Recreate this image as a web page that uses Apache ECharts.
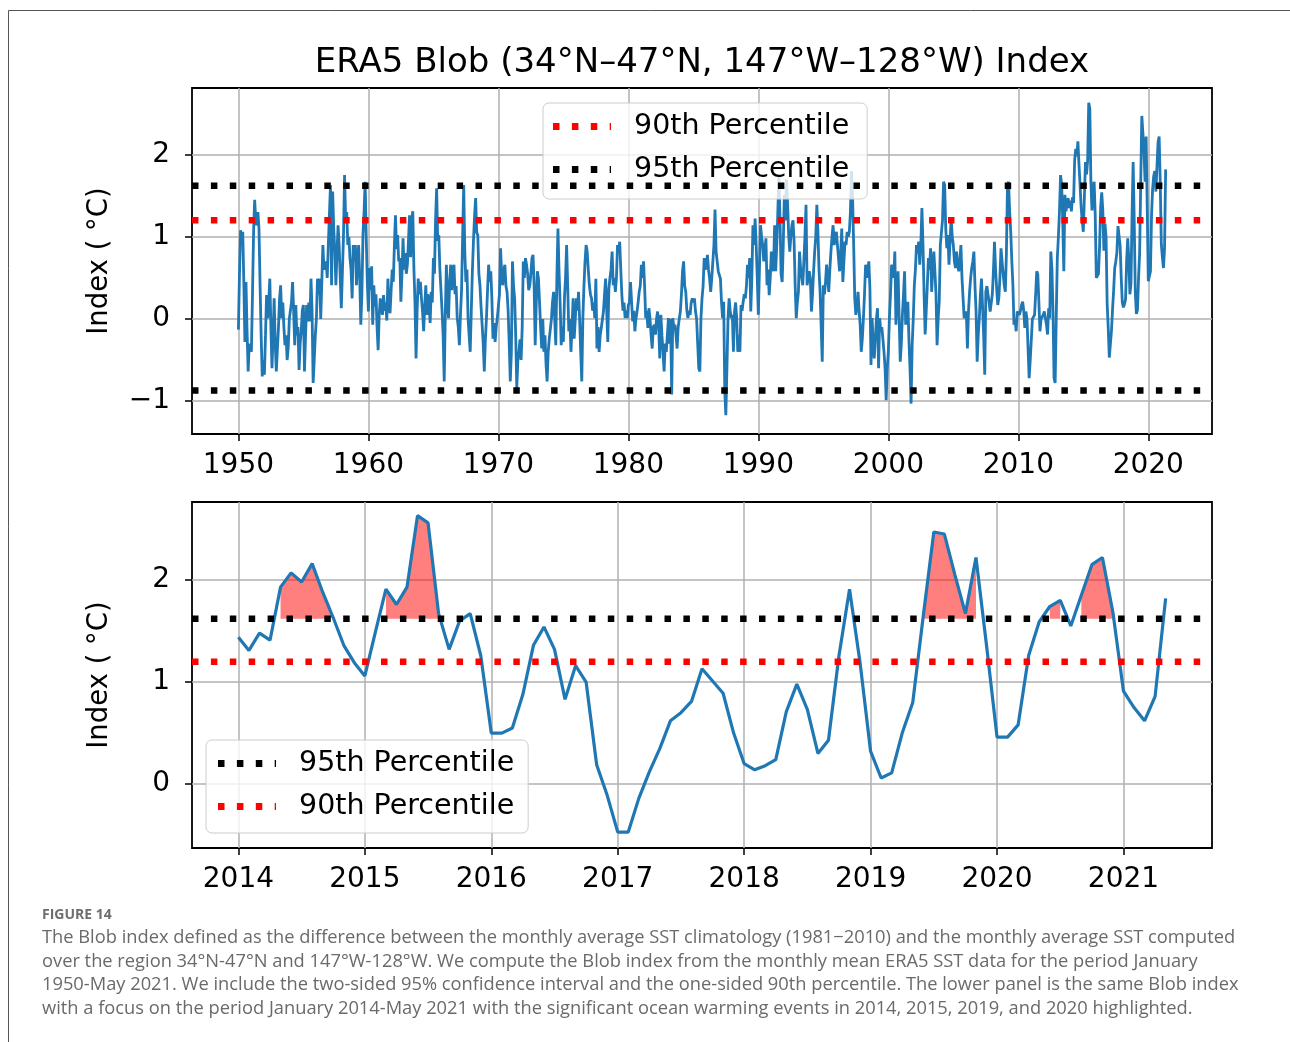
<!DOCTYPE html>
<html>
<head>
<meta charset="UTF-8">
<title>ERA5 Blob Index</title>
<style>
html, body { margin: 0; padding: 0; background: #fff; }
#chart { width: 1290px; height: 1042px; }
</style>
</head>
<body>
<div id="chart"></div>
<script src="https://cdn.jsdelivr.net/npm/echarts@6/dist/echarts.min.js"></script>
<script>
// monthly Blob index (deg C), one row per year
var blob1950s = [
  -0.13, 0.55, 1.08, 0.95, 1.06, 0.45, -0.28, 0.45, -0.15, -0.64, -0.30, -0.28,
  -0.40, 0.30, 1.05, 1.45, 1.20, 1.14, 1.30, 1.10, 0.41, -0.20, -0.70, -0.50,
  -0.68, -0.20, 0.29, 0.01, 0.20, 0.49, -0.10, -0.60, -0.20, 0.25, -0.30, -0.64,
  -0.64, -0.10, 0.25, 0.41, 0.01, 0.20, -0.10, -0.32, -0.20, -0.50, -0.35, 0.00,
  0.00, 0.20, 0.45, 0.10, -0.32, 0.17, -0.20, -0.10, -0.62, -0.30, -0.15, 0.10,
  0.17, -0.64, -0.20, 0.17, -0.03, 0.20, -0.03, 0.49, 0.10, -0.78, -0.50, -0.20,
  0.00, 0.49, 0.30, 0.49, 0.00, 0.45, 0.90, 0.60, 0.58, 0.70, 0.50, 0.90,
  0.90, 1.63, 0.41, 1.55, 1.10, 0.82, 0.41, 0.80, 1.14, 0.90, 0.50, 0.13,
  0.13, 1.00, 1.75, 1.22, 1.30, 0.90, 1.00, 0.74, 0.60, 0.25, 0.90, 0.70,
  0.90, 0.41, 0.70, 0.90, 0.50, -0.07, 0.30, 1.02, 1.30, 1.67, 1.00, 0.45
];
var blob1960s = [
  0.09, 0.62, 0.35, 0.64, -0.07, 0.41, 0.15, 0.30, -0.10, -0.38, 0.05, 0.25,
  0.25, 0.05, 0.29, 0.10, 0.20, -0.02, 0.49, 0.15, 0.07, 0.35, 0.60, 0.45,
  0.90, 1.26, 0.85, 1.02, 0.70, 0.74, 0.21, 0.55, 0.98, 0.60, 0.80, 0.55,
  0.66, 0.95, 1.26, 0.75, 1.20, 1.31, 0.62, 0.20, -0.48, 0.10, 0.49, 0.30,
  0.45, 0.25, 0.09, -0.15, 0.15, 0.41, 0.05, 0.30, 0.20, -0.05, 0.33, 0.20,
  0.74, 0.55, 1.20, 1.59, 0.95, 1.02, 0.60, 0.58, 0.10, -0.20, -0.76, 0.05,
  0.66, 0.20, 0.01, 0.45, 0.66, 0.35, 0.60, 0.66, 0.30, 0.40, 0.01, -0.10,
  -0.32, 0.05, 0.35, 1.00, 1.63, 0.82, 0.45, 0.60, 0.01, -0.20, -0.40, 0.10,
  0.58, 0.95, 1.25, 1.47, 1.05, 1.02, 0.55, 0.41, 0.15, -0.07, -0.30, -0.64,
  -0.25, 0.01, 0.35, 0.66, 0.45, 0.58, 0.25, -0.24, -0.05, -0.28, -0.10, 0.01
];
var blob1970s = [
  0.01, 0.30, 0.86, 0.55, 0.41, 0.60, 0.66, 0.40, 0.33, 0.10, -0.30, -0.76,
  -0.40, 0.70, 0.40, 0.25, -0.20, -0.84, -0.50, -0.40, -0.25, -0.50, -0.10, 0.70,
  0.50, 0.74, 0.66, 0.55, 0.35, 0.41, 0.55, 0.74, 0.78, 0.40, -0.32, 0.20,
  0.58, 0.49, 0.20, -0.10, -0.36, 0.00, -0.40, -0.20, -0.55, -0.76, -0.40, -0.24,
  -0.24, 0.00, 0.21, 0.33, 0.00, -0.32, 0.50, 1.10, 0.58, 0.20, -0.32, -0.10,
  -0.28, 0.25, 0.50, 0.90, 0.40, -0.15, 0.00, -0.40, -0.10, 0.25, -0.24, 0.00,
  0.25, 0.10, 0.33, 0.00, -0.40, -0.76, 0.01, 0.40, 0.70, 0.90, 0.82, 0.60,
  0.41, 0.30, 0.25, 0.10, 0.20, 0.01, 0.49, -0.36, -0.10, -0.40, -0.20, -0.11,
  -0.11, 0.09, 0.30, 0.49, 0.10, -0.28, 0.37, 0.50, 0.60, 0.82, 0.41, 0.50,
  0.33, 0.50, 0.90, 0.80, 0.94, 0.60, 0.29, 0.10, 0.20, 0.01, 0.10, 0.01
];
var blob1980s = [
  0.17, 0.20, 0.45, 0.20, -0.03, 0.10, -0.15, 0.00, 0.09, 0.20, 0.33, 0.40,
  0.66, 0.50, 0.70, 0.40, 0.01, 0.10, -0.11, 0.13, 0.00, -0.20, -0.36, -0.10,
  -0.07, -0.19, 0.00, 0.09, -0.10, -0.48, 0.05, -0.20, -0.40, -0.64, -0.30, -0.40,
  -0.40, 0.01, -0.30, 0.00, -0.92, 0.01, -0.10, -0.07, -0.20, -0.36, -0.10, 0.00,
  0.09, 0.30, 0.58, 0.70, 0.40, 0.33, 0.10, 0.01, 0.10, 0.05, 0.20, 0.25,
  0.20, 0.25, 0.09, 0.00, -0.30, -0.60, -0.64, 0.00, 0.25, 0.40, 0.74, 0.60,
  0.66, 0.78, 0.60, 0.49, 0.33, 0.50, 0.70, 0.90, 1.33, 0.82, 0.70, 0.58,
  0.58, 0.49, 0.20, 0.01, 0.21, -0.88, -1.17, -0.60, 0.00, 0.25, 0.10, 0.01,
  0.05, -0.40, 0.09, 0.20, 0.01, -0.40, -0.20, -0.40, 0.17, 0.10, 0.21, 0.30,
  0.25, 0.40, 0.66, 0.50, 0.74, 0.09, 0.50, 1.14, 0.90, 1.22, 0.90, 0.50
];
var blob1990s = [
  0.05, 0.60, 1.14, 1.00, 0.90, 0.70, 0.82, 0.98, 0.41, 0.60, 0.29, 0.50,
  0.82, 0.70, 0.58, 1.14, 0.58, 0.90, 1.31, 1.75, 1.20, 0.54, 0.45, 0.90,
  1.51, 1.20, 1.70, 1.40, 1.02, 0.82, 1.00, 1.14, 1.20, 0.94, 0.40, 0.01,
  0.20, 0.33, 0.82, 0.62, 0.50, 0.41, 0.70, 1.00, 1.39, 0.41, 0.50, 0.58,
  0.49, 0.09, 0.30, 0.58, 0.82, 1.00, 1.39, 1.06, 0.60, 0.33, -0.10, -0.52,
  0.41, 0.30, 0.45, 0.66, 0.50, 0.33, 0.60, 0.82, 1.00, 1.14, 0.90, 1.00,
  1.06, 0.90, 0.74, 0.58, 0.80, 1.10, 0.45, 0.70, 0.94, 0.90, 1.06, 1.00,
  1.06, 1.30, 1.80, 1.47, 0.90, 0.25, 0.05, 0.15, 0.33, 0.10, -0.07, -0.40,
  -0.24, 0.01, 0.30, 0.66, 0.50, 0.58, 0.70, 0.37, -0.56, 0.01, -0.30, -0.48,
  -0.48, 0.00, 0.13, -0.60, 0.01, -0.15, -0.10, -0.25, -0.40, -0.60, -0.99, -0.60
];
var blob2000s = [
  -0.40, 0.01, 0.30, 0.66, 0.62, 0.50, 0.82, -0.07, 0.30, 0.58, 0.00, -0.52,
  -0.30, 0.05, 0.30, 0.58, -0.07, 0.10, 0.21, -0.24, -0.60, -1.03, -0.32, 0.00,
  0.41, 0.60, 0.90, 0.80, 0.94, 0.66, 0.90, 1.35, 0.90, 0.30, -0.19, 0.10,
  0.41, 0.74, 0.60, 0.86, 0.33, 0.60, 0.82, 0.58, 0.30, -0.32, 0.00, 0.21,
  0.90, 1.05, 1.20, 1.67, 1.63, 1.10, 0.86, 1.02, 0.66, 0.95, 1.22, 1.00,
  0.90, 0.70, 0.62, 0.82, 0.66, 0.58, 0.70, 0.90, 0.50, 0.25, 0.01, 0.05,
  0.09, -0.36, 0.09, 0.33, 0.50, 0.62, 0.70, 0.82, 0.40, 0.09, -0.52, -0.20,
  0.01, 0.30, 0.49, 0.49, -0.20, -0.68, 0.33, 0.40, 0.41, 0.20, 0.09, 0.09,
  0.30, 0.58, 0.94, 0.60, 0.37, 0.17, 0.25, 0.50, 0.86, 0.70, 0.55, 0.41,
  0.33, 0.80, 1.63, 1.67, 1.30, 1.06, 0.70, 0.41, -0.07, 0.00, -0.15, 0.09,
  0.09, 0.05, 0.10, 0.17, 0.21, 0.10, -0.11, 0.09, 0.00, 0.01, -0.72, -0.50,
  -0.48, 0.00, 0.01, 0.05, 0.30, 0.58, 0.54, 0.20, -0.15, 0.00, 0.01, 0.05,
  0.09, 0.01, -0.07, -0.19, 0.13, 0.01, 0.82, 0.62, 0.10, -0.72, -0.78, 0.01,
  0.74, 1.00, 1.31, 1.75, 1.63, 1.20, 0.58, 1.51, 1.31, 1.40, 1.47, 1.35
];
// Jan 2014 - May 2021 (also the lower panel)
var blobRecent = [
  1.44, 1.31, 1.48, 1.41, 1.93, 2.07, 1.98, 2.16, 1.88, 1.63, 1.36, 1.19,
  1.06, 1.49, 1.91, 1.76, 1.93, 2.63, 2.56, 1.67, 1.32, 1.60, 1.67, 1.26,
  0.50, 0.50, 0.55, 0.88, 1.36, 1.54, 1.32, 0.83, 1.16, 1.00, 0.19, -0.11,
  -0.47, -0.47, -0.14, 0.12, 0.35, 0.62, 0.70, 0.81, 1.13, 1.01, 0.89, 0.50,
  0.20, 0.14, 0.18, 0.24, 0.71, 0.98, 0.73, 0.30, 0.43, 1.26, 1.91, 1.19,
  0.32, 0.06, 0.11, 0.50, 0.80, 1.65, 2.47, 2.45, 2.05, 1.67, 2.22, 1.36,
  0.46, 0.46, 0.58, 1.26, 1.59, 1.74, 1.80, 1.55, 1.85, 2.15, 2.22, 1.68,
  0.91, 0.75, 0.62, 0.86, 1.82
];

var p90 = 1.20;      // 90th percentile
var p95 = 1.62;      // upper bound of the 95% interval
var p95low = -0.87;  // lower bound of the 95% interval

var topYears = [1950, 1960, 1970, 1980, 1990, 2000, 2010, 2020];
var topTicks = [-1, 0, 1, 2];
var lowYears = [2014, 2015, 2016, 2017, 2018, 2019, 2020, 2021];
var lowTicks = [0, 1, 2];

// axis limits (matplotlib default 5% margins)
var topX = [1946.43, 2024.90], topY = [-1.40, 2.81];
var lowX = [2013.633, 2021.70], lowY = [-0.626, 2.764];

var blobAll = [].concat(blob1950s, blob1960s, blob1970s, blob1980s, blob1990s, blob2000s, blobRecent);
var topData = blobAll.map(function (v, i) { return [1950 + i / 12, v]; });
var lowData = blobRecent.map(function (v, i) { return [2014 + i / 12, v]; });
var fillData = blobRecent.map(function (v, i) { return [2014 + i / 12, v > p95 ? v : '-']; });

function hline(x, y) { return [[x[0], y], [x[1], y]]; }

var FONT = 'DejaVu Sans';
var BLUE = '#1f77b4';
var dots = [6.5, 12.4];
// legend handle: three square dots and the start of a fourth
var dotIcon = 'path://M0,0h6.5v7h-6.5z M18.9,0h6.5v7h-6.5z M37.8,0h6.5v7h-6.5z M56.7,0h1.3v7h-1.3z';

function xAxis(idx, ext, years) {
  return {
    type: 'value', gridIndex: idx, min: ext[0], max: ext[1],
    axisLine: { show: false, onZero: false },
    axisTick: { show: true, length: 7, customValues: years, lineStyle: { color: '#000', width: 1.5 } },
    axisLabel: {
      customValues: years, margin: 18, fontFamily: FONT, fontSize: 28, color: '#000',
      formatter: function (v) { return String(v); }
    },
    splitLine: { show: true, lineStyle: { color: '#b0b0b0', width: 1.5 } }
  };
}
function yAxis(idx, ext, ticks) {
  return {
    type: 'value', gridIndex: idx, min: ext[0], max: ext[1],
    name: 'Index ( °C)', nameLocation: 'middle', nameRotate: 90, nameGap: 78,
    nameTextStyle: { fontFamily: FONT, fontSize: 27.5, color: '#000' },
    axisLine: { show: false, onZero: false },
    axisTick: { show: true, length: 7, customValues: ticks, lineStyle: { color: '#000', width: 1.5 } },
    axisLabel: {
      customValues: ticks, margin: 22, fontFamily: FONT, fontSize: 28, color: '#000',
      formatter: function (v) { return String(v).replace('-', '\u2212'); }
    },
    splitLine: { show: true, lineStyle: { color: '#b0b0b0', width: 1.5 } }
  };
}
function pctLine(name, idx, x, y, color) {
  return {
    name: name, type: 'line', xAxisIndex: idx, yAxisIndex: idx,
    data: hline(x, y), symbol: 'none', z: 4, silent: true,
    lineStyle: { color: color, width: 6.5, type: dots, cap: 'butt' },
    itemStyle: { color: color }
  };
}
function legendBox(left, top, names, pad) {
  return {
    orient: 'vertical', left: left, top: top, data: names,
    icon: dotIcon, itemWidth: 58, itemHeight: 7, itemGap: 14, padding: pad,
    backgroundColor: 'rgba(255,255,255,0.8)', borderColor: '#cccccc', borderWidth: 1, borderRadius: 6,
    formatter: function (n) { return '{t|' + n + '}'; },
    textStyle: { rich: { t: { fontFamily: FONT, fontSize: 28.5, color: '#000', padding: [0, 0, 0, 18] } } }
  };
}

var caption = [
  'The Blob index defined as the difference between the monthly average SST climatology (1981\u22122010) and the monthly average SST computed',
  'over the region 34\u00b0N-47\u00b0N and 147\u00b0W-128\u00b0W. We compute the Blob index from the monthly mean ERA5 SST data for the period January',
  '1950-May 2021. We include the two-sided 95% confidence interval and the one-sided 90th percentile. The lower panel is the same Blob index',
  'with a focus on the period January 2014-May 2021 with the significant ocean warming events in 2014, 2015, 2019, and 2020 highlighted.'
];

var graphics = [
  { type: 'rect', shape: { x: 8.5, y: 10.5, width: 1400, height: 1100 }, style: { fill: 'none', stroke: '#555', lineWidth: 1 }, z: -1 },
  { type: 'text', x: 702, y: 63, style: { text: 'ERA5 Blob (34\u00b0N\u201347\u00b0N, 147\u00b0W\u2013128\u00b0W) Index', font: '34px "DejaVu Sans"', fill: '#000', textAlign: 'center', textVerticalAlign: 'middle' } },
  { type: 'text', x: 42, y: 915, style: { text: 'FIGURE 14', font: 'bold 14px "Open Sans"', fill: '#6e6e6e', textVerticalAlign: 'middle' } }
];
caption.forEach(function (line, i) {
  graphics.push({ type: 'text', x: 42, y: 938 + i * 23.5, style: { text: line, font: '18.3px "Open Sans"', fill: '#6a6a6a', textVerticalAlign: 'middle' } });
});

var chart = echarts.init(document.getElementById('chart'));
chart.setOption({
  animation: false,
  backgroundColor: '#fff',
  grid: [
    { left: 192, top: 88, width: 1020, height: 346, show: true, borderColor: '#000', borderWidth: 1.8, backgroundColor: '#fff' },
    { left: 192, top: 502, width: 1020, height: 346, show: true, borderColor: '#000', borderWidth: 1.8, backgroundColor: '#fff' }
  ],
  xAxis: [xAxis(0, topX, topYears), xAxis(1, lowX, lowYears)],
  yAxis: [yAxis(0, topY, topTicks), yAxis(1, lowY, lowTicks)],
  legend: [
    legendBox(543, 103, ['90th Percentile', '95th Percentile'], [9, 18, 15, 10]),
    legendBox(206, 740, ['95th Percentile', '90th Percentile'], [9, 14, 12, 12])
  ],
  graphic: graphics,
  series: [
    { name: 'Blob index', type: 'line', xAxisIndex: 0, yAxisIndex: 0, data: topData, symbol: 'none', z: 3,
      lineStyle: { color: BLUE, width: 2.8 } },
    pctLine('90th Percentile', 0, topX, p90, '#ff0000'),
    pctLine('95th Percentile', 0, topX, p95, '#000000'),
    pctLine('95th Percentile', 0, topX, p95low, '#000000'),

    { name: 'Warming events', type: 'line', xAxisIndex: 1, yAxisIndex: 1, data: fillData, symbol: 'none', z: 2,
      lineStyle: { width: 0 }, areaStyle: { color: 'rgba(255,0,0,0.5)', origin: p95, opacity: 1 } },
    { name: 'Blob 2014-2021', type: 'line', xAxisIndex: 1, yAxisIndex: 1, data: lowData, symbol: 'none', z: 3,
      lineStyle: { color: BLUE, width: 3.2 } },
    pctLine('95th Percentile', 1, lowX, p95, '#000000'),
    pctLine('90th Percentile', 1, lowX, p90, '#ff0000')
  ]
});
</script>
</body>
</html>
